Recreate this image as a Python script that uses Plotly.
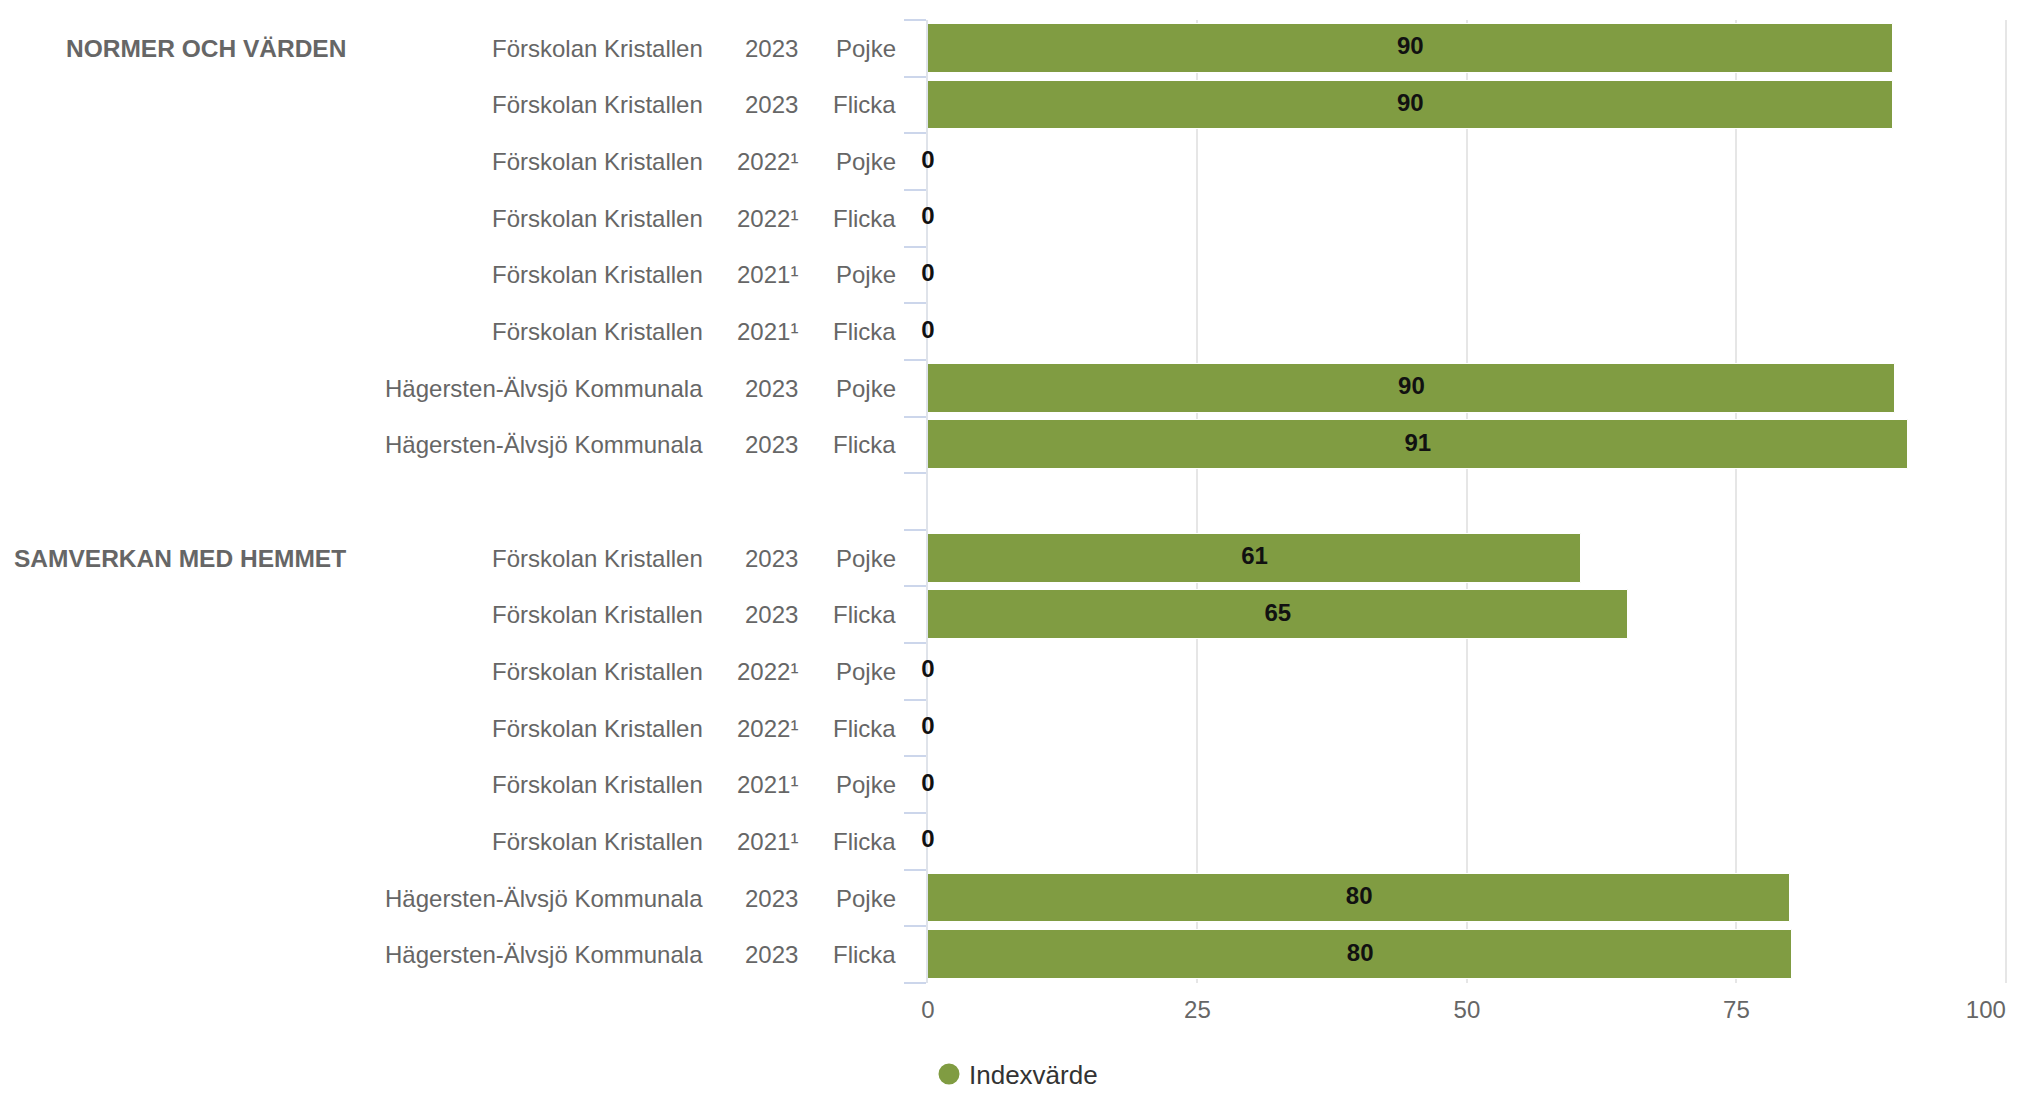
import plotly.graph_objects as go

# ---- data ----
groups = ["NORMER OCH VÄRDEN", "SAMVERKAN MED HEMMET"]
units = ["Förskolan Kristallen", "Förskolan Kristallen", "Förskolan Kristallen", "Förskolan Kristallen",
         "Förskolan Kristallen", "Förskolan Kristallen", "Hägersten-Älvsjö Kommunala", "Hägersten-Älvsjö Kommunala"]
years = ["2023", "2023", "2022¹", "2022¹", "2021¹", "2021¹", "2023", "2023"]
genders = ["Pojke", "Flicka", "Pojke", "Flicka", "Pojke", "Flicka", "Pojke", "Flicka"]
values_normer = [89.5, 89.5, 0, 0, 0, 0, 89.7, 90.9]
values_samverkan = [60.6, 64.9, 0, 0, 0, 0, 80.0, 80.2]
x_ticks = [0, 25, 50, 75, 100]
series_name = "Indexvärde"

GREEN = "#809c42"
GREY = "#666666"
FONT = "Liberation Sans"

W, H = 2019, 1094
L, R, T, B = 920, 19, 12, 119
XMAX = 100.2

# rows: group 1 -> 0..7, empty gap row 8, group 2 -> 9..16
all_values = [values_normer, values_samverkan]
ys, xs, labels = [], [], []
row_info = []
for gi, vals in enumerate(all_values):
    base = gi * (len(units) + 1)
    for i, v in enumerate(vals):
        y = base + i
        ys.append(y)
        xs.append(v)
        labels.append(f"{round(v):d}")
        row_info.append((gi, i, y))

n_rows = 2 * len(units) + 1

fig = go.Figure()
fig.add_trace(go.Bar(
    x=xs, y=ys, orientation="h", width=0.86,
    marker=dict(color=GREEN, line=dict(color="white", width=1)),
    showlegend=False, hoverinfo="skip",
))
fig.add_trace(go.Scatter(
    x=[v / 2 for v in xs], y=ys, mode="text", text=labels,
    textposition="middle center", cliponaxis=False,
    textfont=dict(family=FONT, size=24, color="#111111", weight="bold"),
    showlegend=False, hoverinfo="skip",
))
fig.add_trace(go.Scatter(
    x=[None], y=[None], xaxis="x2", mode="markers", name=series_name,
    marker=dict(color=GREEN, size=26, symbol="circle", line=dict(color=GREEN, width=5)),
))

pw = W - L - R
def px2paper(px):
    return (px - L) / pw

annotations = []
for gi, i, y in row_info:
    if i == 0:
        annotations.append(dict(text=f"<b>{groups[gi]}</b>", x=px2paper(340), xref="paper", y=y, yref="y",
                                xanchor="right", yanchor="middle", showarrow=False,
                                font=dict(family=FONT, size=24.5, color=GREY)))
    annotations.append(dict(text=units[i], x=px2paper(697), xref="paper", y=y, yref="y",
                            xanchor="right", yanchor="middle", showarrow=False,
                            font=dict(family=FONT, size=24, color=GREY)))
    annotations.append(dict(text=years[i], x=px2paper(792), xref="paper", y=y, yref="y",
                            xanchor="right", yanchor="middle", showarrow=False,
                            font=dict(family=FONT, size=24, color=GREY)))
    annotations.append(dict(text=genders[i], x=px2paper(890), xref="paper", y=y, yref="y",
                            xanchor="right", yanchor="middle", showarrow=False,
                            font=dict(family=FONT, size=24, color=GREY)))

main_ticktext = [str(t) for t in x_ticks[:-1]] + [""]

fig.update_layout(
    width=W, height=H,
    margin=dict(l=L, r=R, t=T, b=B, autoexpand=False),
    plot_bgcolor="white", paper_bgcolor="white",
    font=dict(family=FONT, size=24, color=GREY),
    bargap=0,
    annotations=annotations,
    legend=dict(orientation="h", x=(921 - L) / pw, xanchor="left",
                yref="container", y=0.004, yanchor="bottom",
                font=dict(family=FONT, size=26, color="#333333"), itemsizing="trace"),
    xaxis=dict(range=[0, XMAX], tickvals=x_ticks, ticktext=main_ticktext, showgrid=True,
               gridcolor="#e6e6e6", gridwidth=2, zeroline=False, showline=False,
               ticks="", ticklabelstandoff=10,
               tickfont=dict(family=FONT, size=24, color=GREY),
               fixedrange=True),
    xaxis2=dict(overlaying="x", matches="x", side="bottom", range=[0, XMAX],
                tickvals=[x_ticks[-1]], ticktext=[str(x_ticks[-1])],
                ticklabelposition="outside left", showgrid=False, zeroline=False, showline=False,
                ticks="", ticklabelstandoff=10,
                tickfont=dict(family=FONT, size=24, color=GREY), fixedrange=True),
    yaxis=dict(range=[n_rows - 0.5, -0.5], tickvals=[k - 0.5 for k in range(n_rows + 1)],
               showticklabels=False, showgrid=False, zeroline=False,
               showline=True, linecolor="#dfe3ea", linewidth=2, layer="below traces",
               ticks="outside", ticklen=22, tickcolor="#ccd6eb", tickwidth=2,
               fixedrange=True),
)

fig.write_html("out.html")
